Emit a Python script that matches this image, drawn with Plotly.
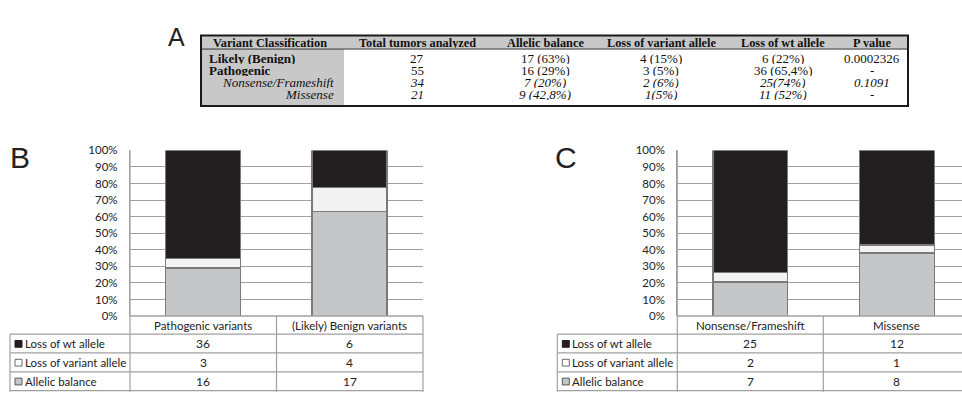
import plotly.graph_objects as go

W, H = 962, 393

# ---------------- Data ----------------
# Panel A (table)
a_headers = ["Variant Classification", "Total tumors analyzed", "Allelic balance",
             "Loss of variant allele", "Loss of wt allele", "P value"]
a_class = ["Likely (Benign)", "Pathogenic", "Nonsense/Frameshift", "Missense"]
a_total = ["27", "55", "34", "21"]
a_balance = ["17 (63%)", "16 (29%)", "7 (20%)", "9 (42,8%)"]
a_loss_variant = ["4 (15%)", "3 (5%)", "2 (6%)", "1(5%)"]
a_loss_wt = ["6 (22%)", "36 (65,4%)", "25(74%)", "11 (52%)"]
a_pvalue = ["0.0002326", "-", "0.1091", "-"]

# Panel B
b_categories = ["Pathogenic variants", "(Likely) Benign variants"]
b_loss_wt = [36, 6]
b_loss_variant = [3, 4]
b_allelic_balance = [16, 17]

# Panel C
c_categories = ["Nonsense/Frameshift", "Missense"]
c_loss_wt = [25, 12]
c_loss_variant = [2, 1]
c_allelic_balance = [7, 8]

series_names = ["Loss of wt allele", "Loss of variant allele", "Allelic balance"]
y_tick_values = [0, 10, 20, 30, 40, 50, 60, 70, 80, 90, 100]
y_tick_labels = [f"{v}%" for v in y_tick_values]

# ---------------- Styles ----------------
COL_WT = "#231f20"
COL_VAR = "#f2f3f2"
COL_BAL = "#c5c6c8"
EDGE = "#7a7a7a"
GRID = "#a0a0a0"
TXT = "#222222"
CHART_FONT = "Lato"
SERIF = "Liberation Serif"
CH_SIZE = 11.5


def px(x):
    return x / W


def py(y):
    return 1 - y / H


shapes = []
annotations = []


def hline(x0, x1, y, color=GRID, width=1):
    shapes.append(dict(type="line", xref="paper", yref="paper", x0=px(x0), x1=px(x1),
                       y0=py(y), y1=py(y), line=dict(color=color, width=width)))


def vline(x, y0, y1, color=GRID, width=1):
    shapes.append(dict(type="line", xref="paper", yref="paper", x0=px(x), x1=px(x),
                       y0=py(y0), y1=py(y1), line=dict(color=color, width=width)))


def rect(x0, y0, x1, y1, fill, line_color=None, width=0):
    shapes.append(dict(type="rect", xref="paper", yref="paper", x0=px(x0), x1=px(x1),
                       y0=py(y1), y1=py(y0), fillcolor=fill, layer="below",
                       line=dict(color=line_color or fill, width=width)))


def text(x, y, s, size=12, family=CHART_FONT, color=TXT, xanchor="center", xref="paper", box_h=None):
    ann = dict(x=(px(x) if xref == "paper" else x), y=py(y), xref=xref, yref="paper",
               text=s, showarrow=False, xanchor=xanchor, yanchor="middle",
               font=dict(family=family, size=size, color=color))
    if box_h is not None:
        ann.update(height=box_h, borderpad=0, valign="middle")
    annotations.append(ann)


fig = go.Figure()

# ---------------- Panels B and C bars ----------------
panels = [
    dict(cats=b_categories, wt=b_loss_wt, var=b_loss_variant, bal=b_allelic_balance,
         xa="x", ya="y", left=130.0, right=422.7, table_left=10.0, mid=276.5,
         xrange=[-0.5, 1.5], domain=[130.0, 422.7], letter="B", letter_x=20),
    dict(cats=c_categories, wt=c_loss_wt, var=c_loss_variant, bal=c_allelic_balance,
         xa="x2", ya="y2", left=677.3, right=962.0, table_left=557.3, mid=823.3,
         xrange=[-0.5, 1.446], domain=[677.3, 962.0], letter="C", letter_x=566),
]

TOP, BOTTOM = 148.3, 319.7
ROW_LINES = [338.4, 357.8, 377.3, 396.8]

for p in panels:
    for name, vals, col in [("Allelic balance", p["bal"], COL_BAL),
                            ("Loss of variant allele", p["var"], COL_VAR),
                            ("Loss of wt allele", p["wt"], COL_WT)]:
        fig.add_trace(go.Bar(x=p["cats"], y=vals, name=name, xaxis=p["xa"], yaxis=p["ya"],
                             marker=dict(color=col, line=dict(color=EDGE, width=1.2)),
                             width=0.512, showlegend=False))

axis_common_x = dict(showgrid=False, showticklabels=False, ticks="", zeroline=False,
                     showline=False, type="category")
axis_common_y = dict(range=[0, 100], tickvals=y_tick_values, ticktext=y_tick_labels,
                     showgrid=True, gridcolor=GRID, gridwidth=1.2, zeroline=False,
                     showline=True, linecolor=GRID, linewidth=1.2, ticks="",
                     tickfont=dict(family=CHART_FONT, size=CH_SIZE, color=TXT))

layout_axes = {}
for i, p in enumerate(panels):
    sfx = "" if i == 0 else "2"
    layout_axes["xaxis" + sfx] = dict(axis_common_x, domain=[px(p["domain"][0]), px(p["domain"][1])],
                                      range=p["xrange"], anchor="y" + sfx)
    layout_axes["yaxis" + sfx] = dict(axis_common_y, domain=[py(BOTTOM), py(TOP)],
                                      anchor="x" + sfx, ticklabelstandoff=9)

    # data table under the bars
    L, R, TL, M = p["left"], p["right"], p["table_left"], p["mid"]
    table_right = L + 2 * (p["mid"] - L)
    hline(L, min(table_right, W), BOTTOM, color=GRID, width=1.5)
    for yl in ROW_LINES:
        hline(TL, min(table_right, W), yl, color=GRID, width=1.2)
    vline(L, TOP, H + 5, color=GRID, width=1.2)
    vline(M, BOTTOM, H + 5, color=GRID, width=1.2)
    vline(table_right, BOTTOM, H + 5, color=GRID, width=1.2)
    vline(TL, ROW_LINES[0], H + 5, color=GRID, width=1.2)

    row_centers = [(BOTTOM + ROW_LINES[0]) / 2] + [(ROW_LINES[k] + ROW_LINES[k + 1]) / 2 for k in range(3)]
    xa = p["xa"]
    for j, cat in enumerate(p["cats"]):
        text(cat, row_centers[0], cat, size=CH_SIZE, xref=xa)
        text(cat, row_centers[1], str(p["wt"][j]), size=12, xref=xa)
        text(cat, row_centers[2], str(p["var"][j]), size=12, xref=xa)
        text(cat, row_centers[3], str(p["bal"][j]), size=12, xref=xa)

    # row labels with legend squares
    sq_fill = [COL_WT, "#ffffff", COL_BAL]
    sq_line = [COL_WT, "#6a6a6a", "#5a5a5a"]
    for k, name in enumerate(series_names):
        yc = row_centers[k + 1]
        shapes.append(dict(type="rect", xref="paper", yref="paper",
                           x0=px(TL + 5), x1=px(TL + 12), y0=py(yc + 3.8), y1=py(yc - 3.2),
                           fillcolor=sq_fill[k], line=dict(color=sq_line[k], width=1)))
        text(TL + 13, yc, name, size=CH_SIZE, xanchor="left")

    # panel letter
    text(p["letter_x"], 156, p["letter"], size=30, family="Liberation Sans", color="#222222")

# ---------------- Panel A table ----------------
A_L, A_R, A_T, A_B = 201.0, 908.0, 29.5, 102.5
A_HEAD_B = 43.5
A_COL1_R = 344.0
rect(A_L, A_T, A_R, A_HEAD_B, "#c8c8c8")
rect(A_L, A_HEAD_B, A_COL1_R, A_B, "#c8c8c8")
hline(A_L, A_R, A_HEAD_B, color="#333333", width=1)
shapes.append(dict(type="rect", xref="paper", yref="paper", x0=px(A_L), x1=px(A_R),
                   y0=py(A_B), y1=py(A_T), line=dict(color="#1a1a1a", width=2)))

col_centers = [270, 417, 545, 661, 783, 872]
head_y = 36.5
row_ys = [53, 65.8, 78.2, 90.8]
for c, h in zip(col_centers, a_headers):
    text(c, head_y, f"<b>{h}</b>", size=12.3, family=SERIF, color="#111111", box_h=11)

value_cols = [a_total, a_balance, a_loss_variant, a_loss_wt, a_pvalue]
for r in range(4):
    italic = r >= 2
    label = a_class[r]
    if italic:
        text(335, row_ys[r], f"<i>{label}</i>", size=13, family=SERIF, color="#111111",
             xanchor="right", box_h=11)
    else:
        text(208, row_ys[r], f"<b>{label}</b>", size=13, family=SERIF, color="#111111",
             xanchor="left", box_h=11)
    for c, col in zip(col_centers[1:], value_cols):
        s = col[r]
        if italic:
            s = f"<i>{s}</i>"
        text(c, row_ys[r], s, size=13, family=SERIF, color="#111111", box_h=11)

text(176, 31, "A", size=25, family="Liberation Sans", color="#222222")

fig.update_layout(
    width=W, height=H, margin=dict(l=0, r=0, t=0, b=0),
    paper_bgcolor="white", plot_bgcolor="white",
    barmode="stack", barnorm="percent",
    shapes=shapes, annotations=annotations,
    **layout_axes,
)

fig.write_html("out.html")
